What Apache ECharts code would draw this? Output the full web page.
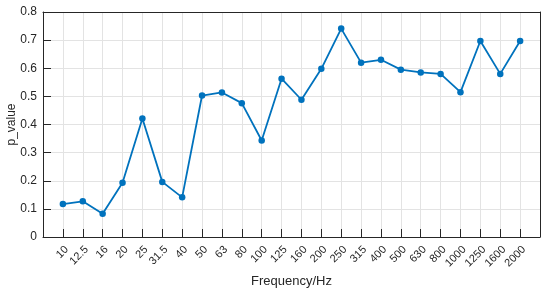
<!DOCTYPE html>
<html>
<head>
<meta charset="utf-8">
<script src="https://cdn.jsdelivr.net/npm/echarts@6/dist/echarts.min.js"></script>
<style>html,body{margin:0;padding:0;background:#fff}#c{width:550px;height:294px}</style>
</head>
<body>
<div id="c"></div>
<script>
const categories = ['10','12.5','16','20','25','31.5','40','50','63','80','100','125','160','200','250','315','400','500','630','800','1000','1250','1600','2000'];
const pValues = [0.117,0.127,0.083,0.193,0.421,0.196,0.141,0.503,0.514,0.476,0.343,0.563,0.488,0.598,0.741,0.620,0.630,0.595,0.585,0.580,0.515,0.697,0.580,0.697];
const yTicks = [0,0.1,0.2,0.3,0.4,0.5,0.6,0.7,0.8];

const font = '"Liberation Sans", Arial, Helvetica, sans-serif';
const axisColor = '#262626';
const gridColor = '#e3e3e3';
const xMax = categories.length + 1;
const chart = echarts.init(document.getElementById('c'), null, {renderer:'canvas'});
const seriesData = categories.map((c,i)=>[i+1, pValues[i]]);

function tickX(pos){
  return {type:'value', position:pos, offset:-4, min:0, max:xMax, interval:1,
    axisLine:{show:false}, axisTick:{show:true, inside:false, length:4, lineStyle:{color:axisColor}},
    axisLabel:{show:false}, splitLine:{show:false}};
}
function tickY(pos){
  return {type:'value', position:pos, offset:-4, min:yTicks[0], max:yTicks[yTicks.length-1], interval:0.1,
    axisLine:{show:false}, axisTick:{show:true, inside:false, length:4, lineStyle:{color:axisColor}},
    axisLabel:{show:false}, splitLine:{show:false}};
}

chart.setOption({
  animation:false,
  backgroundColor:'#fff',
  grid:{left:43, top:12, right:10, bottom:57, containLabel:false, outerBoundsMode:'none'},
  xAxis:[{
    type:'value', position:'bottom', min:0, max:xMax, interval:1,
    name:'Frequency/Hz', nameLocation:'middle', nameGap:38, nameMoveOverlap:false,
    nameTextStyle:{fontFamily:font, fontSize:13, color:axisColor},
    axisLine:{show:true, onZero:false, lineStyle:{color:axisColor, width:1}},
    axisTick:{show:false},
    axisLabel:{show:true, rotate:45, margin:7, verticalAlign:'top', fontFamily:font, fontSize:11, color:axisColor, hideOverlap:false,
      formatter:v=>categories[v-1]!==undefined?categories[v-1]:''},
    splitLine:{show:true, lineStyle:{color:gridColor, width:1}}
  },{
    type:'value', position:'top', min:0, max:xMax, interval:1,
    axisLine:{show:true, onZero:false, lineStyle:{color:axisColor, width:1}},
    axisTick:{show:false}, axisLabel:{show:false}, splitLine:{show:false}
  }, tickX('bottom'), tickX('top')],
  yAxis:[{
    type:'value', position:'left', min:yTicks[0], max:yTicks[yTicks.length-1], interval:0.1,
    name:'p_value', nameLocation:'middle', nameGap:25, nameMoveOverlap:false,
    nameTextStyle:{fontFamily:font, fontSize:12, color:axisColor},
    axisLine:{show:true, onZero:false, lineStyle:{color:axisColor, width:1}},
    axisTick:{show:false},
    axisLabel:{margin:6, fontFamily:font, fontSize:12, color:axisColor,
      formatter:v=>{const t=yTicks.find(x=>Math.abs(x-v)<1e-9);return t===undefined?'':(t===0?'0':t.toFixed(1));}},
    splitLine:{show:true, lineStyle:{color:gridColor, width:1}}
  },{
    type:'value', position:'right', min:yTicks[0], max:yTicks[yTicks.length-1], interval:0.1,
    axisLine:{show:true, onZero:false, lineStyle:{color:axisColor, width:1}},
    axisTick:{show:false}, axisLabel:{show:false}, splitLine:{show:false}
  }, tickY('left'), tickY('right')],
  series:[{
    type:'line', xAxisIndex:0, yAxisIndex:0, data:seriesData,
    symbol:'circle', symbolSize:6.5, showSymbol:true,
    itemStyle:{color:'#0072BD'},
    lineStyle:{color:'#0072BD', width:1.8}
  }]
});
</script>
</body>
</html>
